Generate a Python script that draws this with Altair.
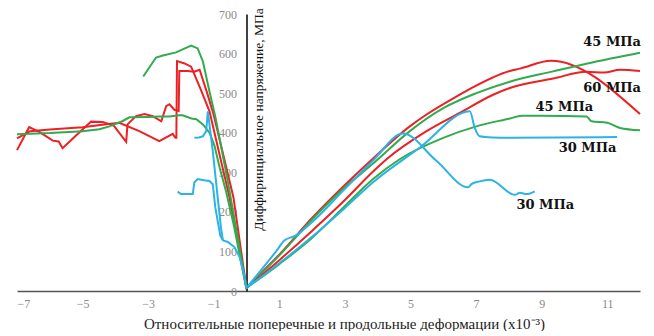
import altair as alt
import pandas as pd

RED = "#ed2024"
GREEN = "#32ab4f"
BLUE = "#2cb3e6"

# ---- axial (positive) branches ----
r1_x = [0, 0.5, 1.0, 1.97, 3.0, 3.86, 4.98, 5.49, 6.5, 6.8, 8.03, 8.34, 9.28, 12.0]
r1_y = [8, 50, 92, 182, 268, 335, 416, 446, 496, 510, 556, 562, 582, 447]

g1_x = [0, 1.0, 1.97, 3.0, 3.86, 4.98, 6.0, 7.01, 8.03, 9.35, 10.4, 12.0]
g1_y = [8, 90, 178, 262, 322, 404, 462, 500, 529, 555, 575, 602]

r2_x = [0, 1.0, 1.97, 3.0, 3.86, 4.27, 5.49, 6.5, 7.52, 8.03, 9.35, 10.37, 10.9, 11.39, 12.0]
r2_y = [8, 78, 150, 230, 302, 333, 404, 450, 496, 513, 537, 554, 552, 559, 556]

g2_x = [0, 1.0, 1.97, 3.0, 3.86, 4.67, 6.0, 7.01, 8.03, 8.39, 9.0, 10.37, 10.52, 11.0, 11.39, 12.0]
g2_y = [8, 68, 132, 215, 283, 333, 387, 416, 436, 443, 443, 441, 429, 425, 412, 406]

b1_x = [0, 1.0, 1.97, 3.0, 3.86, 5.28, 6.81, 6.96, 7.11, 7.5, 8.03, 11.3]
b1_y = [8, 70, 135, 210, 275, 362, 454, 412, 391, 388, 387, 389]

b2_x = [0, 0.9, 1.16, 1.5, 1.97, 3.0, 3.86, 4.77, 5.79, 6.76, 6.86, 7.11, 7.42, 8.18, 8.34, 8.54, 8.79]
b2_y = [8, 100, 128, 140, 172, 258, 330, 398, 329, 262, 270, 277, 281, 243, 248, 245, 252]

# ---- lateral (negative) branches ----
r1l_x = [-7, -6.6, -6.0, -5.0, -4.4, -3.88, -3.27, -2.66, -2.25, -2.17, -2.14, -2.12, -1.89, -1.69, -1.4, -1.13, -0.52, 0]
r1l_y = [386, 404, 408, 414, 420, 425, 404, 379, 397, 387, 387, 581, 575, 567, 510, 454, 237, 5]

r2l_x = [-7, -6.63, -6.32, -5.91, -5.73, -5.61, -5.2, -4.74, -4.39, -4.05, -3.67, -3.63, -3.37, -3.11,
         -2.86, -2.6, -2.45, -2.35, -2.2, -2.07, -2.05, -1.79, -1.6, -1.43, -1.2, -1.0, -0.4, 0]
r2l_y = [356, 414, 402, 380, 378, 361, 393, 428, 427, 418, 377, 421, 442, 447,
         442, 429, 467, 472, 458, 455, 556, 556, 554, 559, 500, 445, 237, 5]

g1l_x = [-3.15, -2.76, -2.55, -2.15, -1.69, -1.49, -1.33, -1.13, -0.95, -0.6, -0.3, 0]
g1l_y = [542, 590, 595, 603, 620, 613, 580, 504, 440, 290, 150, 5]

g2l_x = [-7, -6, -5, -4.49, -4.18, -3.79, -3.57, -3.0, -2.66, -2.35, -2.05, -1.95, -1.68, -1.53,
         -1.33, -1.13, -0.98, -0.82, -0.62, -0.37, -0.16, 0]
g2l_y = [396, 399, 404, 409, 416, 429, 439, 440, 441, 441, 444, 444, 436, 434,
         421, 400, 368, 312, 250, 160, 70, 5]

b1l_x = [-1.59, -1.45, -1.33, -1.23, -1.18, -1.03, -0.88, -0.78, -0.72, -0.57, -0.37, -0.21, -0.06, 0]
b1l_y = [387, 388, 391, 404, 454, 354, 237, 160, 128, 124, 111, 86, 36, 5]

b2l_x = [-2.1, -2.0, -1.89, -1.64, -1.59, -1.49, -1.3, -1.13, -1.03, -0.95, -0.8, -0.72]
b2l_y = [251, 245, 245, 245, 275, 283, 280, 278, 270, 210, 140, 128]

axial = [
    ("r1", RED, r1_x, r1_y), ("g1", GREEN, g1_x, g1_y), ("r2", RED, r2_x, r2_y),
    ("g2", GREEN, g2_x, g2_y), ("b1", BLUE, b1_x, b1_y), ("b2", BLUE, b2_x, b2_y),
]
lateral = [
    ("r1l", RED, r1l_x, r1l_y), ("r2l", RED, r2l_x, r2l_y), ("g1l", GREEN, g1l_x, g1l_y),
    ("g2l", GREEN, g2l_x, g2l_y), ("b1l", BLUE, b1l_x, b1l_y), ("b2l", BLUE, b2l_x, b2l_y),
]


def to_df(group):
    rows = []
    for name, col, xs, ys in group:
        for i, (xv, yv) in enumerate(zip(xs, ys)):
            rows.append({"s": name, "i": i, "x": xv, "y": yv})
    return pd.DataFrame(rows)


df_ax = to_df(axial)
df_lat = to_df(lateral)

names = [s[0] for s in axial + lateral]
colors = [s[1] for s in axial + lateral]

# ---- annotation labels ----
lab_text = ["45 МПа", "60 МПа", "45 МПа", "30 МПа", "30 МПа"]
lab_x = [11.15, 11.15, 9.69, 10.4, 9.11]
lab_y = [630, 512, 464, 361, 218]
lab_df = pd.DataFrame({"t": lab_text, "x": lab_x, "y": lab_y})

x_ticks = [-7, -5, -3, -1, 1, 3, 5, 7, 9, 11]
y_ticks = [0, 100, 200, 300, 400, 500, 600, 700]

W, H = 623, 277
SERIF = "Liberation Serif"

xscale = alt.Scale(domain=[-7, 12], nice=False, zero=False)
yscale = alt.Scale(domain=[0, 700], nice=False)

xs = alt.X("x:Q", scale=xscale,
           axis=alt.Axis(values=x_ticks, grid=False, ticks=False, tickSize=0,
                         labelOverlap=False,
                         labelColor="#8a8a8a", labelFont=SERIF, labelFontSize=12,
                         labelPadding=7, domainColor="#555555", domainWidth=1.5,
                         title="Относительные поперечные и продольные деформации (x10⁻³)",
                         titleFont=SERIF, titleFontSize=15, titleFontWeight="normal",
                         titleColor="#222222", titleX=327, titleY=32,
                         titleAlign="center", titleBaseline="middle", titleLimit=600))
ys = alt.Y("y:Q", scale=yscale,
           axis=alt.Axis(values=y_ticks, grid=False, ticks=False, tickSize=0,
                         labelOverlap=False, labelSeparation=0,
                         offset=-229.5, labelColor="#8a8a8a", labelFont=SERIF,
                         labelFontSize=12, labelPadding=10, domainColor="#000000",
                         domainWidth=1.5,
                         title="Диффиринциальное напряжение, МПа",
                         titleFont=SERIF, titleFontSize=13.5, titleFontWeight="normal",
                         titleColor="#111111", titleAngle=270, titleX=5, titleY=105,
                         titleAlign="center", titleBaseline="top", titleLimit=400))

color = alt.Color("s:N", scale=alt.Scale(domain=names, range=colors), legend=None)

lines_ax = alt.Chart(df_ax).mark_line(strokeWidth=2, interpolate="monotone").encode(
    x=xs, y=ys, color=color, order=alt.Order("i:Q"),
)
lines_lat = alt.Chart(df_lat).mark_line(strokeWidth=2).encode(
    x=xs, y=ys, color=color, order=alt.Order("i:Q"),
)

labels = alt.Chart(lab_df).mark_text(font="DejaVu Serif", fontSize=13, fontWeight="bold",
                                     color="#111111").encode(
    x=xs, y=ys, text="t:N")

chart = alt.layer(lines_ax, lines_lat, labels).properties(
    width=W, height=H,
    autosize=alt.AutoSizeParams(type="none"),
    padding={"left": 9, "top": 6, "right": 6, "bottom": 40},
).configure_view(stroke=None).configure_axis(labelOverlap=False)

chart.save("out.html", embed_options={"renderer": "svg", "actions": False})
